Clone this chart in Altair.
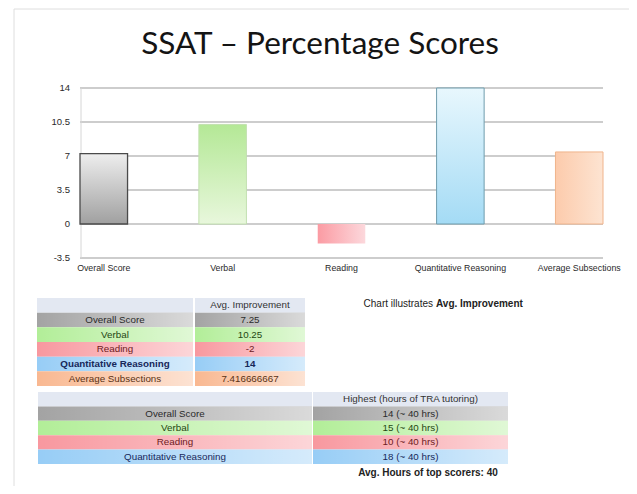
import altair as alt
import pandas as pd

# ---------------- data ----------------
title_text = "SSAT – Percentage Scores"
categories = ["Overall Score", "Verbal", "Reading", "Quantitative Reasoning", "Average Subsections"]
improvement = [7.25, 10.25, -2, 14, 7.416666667]
improvement_labels = ["7.25", "10.25", "-2", "14", "7.416666667"]
y_ticks = [-3.5, 0, 3.5, 7, 10.5, 14]
y_tick_labels = ["-3.5", "0", "3.5", "7", "10.5", "14"]
table1_header = "Avg. Improvement"
table2_header = "Highest (hours of TRA tutoring)"
table2_categories = categories[:4]
highest = ["14 (~ 40 hrs)", "15 (~ 40 hrs)", "10 (~ 40 hrs)", "18 (~ 40 hrs)"]
caption_plain = "Chart illustrates"
caption_bold = "Avg. Improvement"
footnote = "Avg. Hours of top scorers: 40"

# ---------------- styles ----------------
FONT = "Liberation Sans, Arial, sans-serif"
TITLE_FONT = "Lato, DejaVu Sans Condensed, sans-serif"
keys = ["header"] + categories
cell_fill = ["#e3e8f2", "#a3a3a3", "#b2ee98", "#f8989f", "#97cdf6", "#f9b891"]
text_col = ["#333333", "#2b2b2b", "#1f4712", "#6d1b22", "#17285a", "#5a3214"]

W, H = 621, 478

bars_df = pd.DataFrame({"category": categories, "value": improvement})
ticks_df = pd.DataFrame({"tick": y_ticks, "label": y_tick_labels})

xs = alt.Scale(type="band", domain=categories, range=[72, 595], paddingInner=0.6, paddingOuter=0)
ys = alt.Scale(domain=[-3.5, 14], range=[250, 80], nice=False, zero=False)

one = pd.DataFrame({"t": [title_text]})

layers = []

# card
layers.append(alt.Chart(one).mark_rect(fill="#e6e6e6").encode(
    x=alt.value(8), x2=alt.value(628), y=alt.value(3), y2=alt.value(480)))
layers.append(alt.Chart(one).mark_rect(fill="white", stroke="#dedede", strokeWidth=1).encode(
    x=alt.value(6), x2=alt.value(624), y=alt.value(1), y2=alt.value(479)))

# title
layers.append(alt.Chart(one).mark_text(font=TITLE_FONT, fontSize=31.5, color="#141414",
                                       align="center", baseline="middle").encode(
    x=alt.value(312), y=alt.value(37), text="t:N"))

# gridlines
layers.append(alt.Chart(ticks_df).mark_rule(color="#9c9c9c", strokeWidth=1.1).encode(
    y=alt.Y("tick:Q", scale=ys, axis=None), x=alt.value(72), x2=alt.value(595)))
layers.append(alt.Chart(one).mark_rule(color="#d6d6d6", strokeWidth=1).encode(
    x=alt.value(73), y=alt.value(80), y2=alt.value(250)))

# tick labels
layers.append(alt.Chart(ticks_df).mark_text(font=FONT, fontSize=9.5, color="#2a2a2a",
                                            align="right", baseline="middle").encode(
    y=alt.Y("tick:Q", scale=ys, axis=None), x=alt.value(62), text="label:N"))

# bars with individual gradients
def grad(c1, c2, vertical=True):
    return alt.Gradient(gradient="linear",
                        stops=[alt.GradientStop(color=c1, offset=0), alt.GradientStop(color=c2, offset=1)],
                        x1=0, y1=0, x2=0 if vertical else 1, y2=1 if vertical else 0)

bar_styles = {
    "Overall Score": dict(color=grad("#eeeeee", "#a0a0a0"), stroke="#4a4a4a", strokeWidth=1.3),
    "Verbal": dict(color=grad("#b4e896", "#e8f7dc"), stroke="#c2e0b0", strokeWidth=1),
    "Reading": dict(color=grad("#fb9ba3", "#fcd8dc", vertical=False), strokeWidth=0),
    "Quantitative Reasoning": dict(color=grad("#e8f7fd", "#a4dbf5"), stroke="#6e9cac", strokeWidth=1),
    "Average Subsections": dict(color=grad("#fccbac", "#fde4d2", vertical=False), stroke="#f0b48c", strokeWidth=1),
}
for cat in categories:
    layers.append(alt.Chart(bars_df).transform_filter(alt.datum.category == cat)
                  .mark_bar(**bar_styles[cat]).encode(
        x=alt.X("category:N", scale=xs, axis=None),
        y=alt.Y("value:Q", scale=ys, axis=None),
        y2=alt.datum(0)))

# category labels
layers.append(alt.Chart(bars_df).mark_text(font=FONT, fontSize=8.8, color="#2a2a2a",
                                           align="center", baseline="middle").encode(
    x=alt.X("category:N", scale=xs, axis=None, bandPosition=0.5), y=alt.value(260), text="category:N"))

# ---------------- tables ----------------
rows = []
rows.append(dict(table=1, row=0, key="header", c1="", c2=table1_header, bold=False))
for i, (c, v) in enumerate(zip(categories, improvement_labels)):
    rows.append(dict(table=1, row=i + 1, key=c, c1=c, c2=v, bold=(c == "Quantitative Reasoning")))
rows.append(dict(table=2, row=0, key="header", c1="", c2=table2_header, bold=False))
for i, (c, v) in enumerate(zip(table2_categories, highest)):
    rows.append(dict(table=2, row=i + 1, key=c, c1=c, c2=v, bold=False))
cells = pd.DataFrame(rows)
cells["row_end"] = cells["row"] + 1
cells["mid"] = cells["row"] + 0.5

fill_scale = alt.Scale(domain=keys, range=cell_fill)
text_scale = alt.Scale(domain=keys, range=text_col)
table_y = {1: alt.Scale(domain=[0, 6], range=[290, 378], nice=False, zero=False),
           2: alt.Scale(domain=[0, 5], range=[384, 456], nice=False, zero=False)}
col_x = {(1, 1): (29, 185), (1, 2): (187, 297), (2, 1): (30, 304), (2, 2): (305, 500)}
white_grad = alt.Gradient(gradient="linear",
                          stops=[alt.GradientStop(color="rgba(255,255,255,0)", offset=0),
                                 alt.GradientStop(color="rgba(255,255,255,0.6)", offset=1)],
                          x1=0, y1=0, x2=1, y2=0)

for (t, c), (x0, x1) in col_x.items():
    base = alt.Chart(cells).transform_filter(alt.datum.table == t)
    layers.append(base.mark_rect().encode(
        x=alt.value(x0), x2=alt.value(x1),
        y=alt.Y("row:Q", scale=table_y[t], axis=None), y2="row_end:Q",
        fill=alt.Fill("key:N", scale=fill_scale, legend=None)))
    layers.append(base.transform_filter(alt.datum.key != "header").mark_rect(color=white_grad).encode(
        x=alt.value(x0), x2=alt.value(x1),
        y=alt.Y("row:Q", scale=table_y[t], axis=None), y2="row_end:Q"))
    for b in (False, True):
        layers.append(base.transform_filter(alt.datum.bold == b).mark_text(
            font=FONT, fontSize=9.8, fontWeight="bold" if b else "normal",
            align="center", baseline="middle").encode(
            x=alt.value((x0 + x1) / 2),
            y=alt.Y("mid:Q", scale=table_y[t], axis=None),
            text=alt.Text("c1:N" if c == 1 else "c2:N"),
            color=alt.Color("key:N", scale=text_scale, legend=None)))

# caption & footnote
cap = pd.DataFrame({"a": [caption_plain], "b": [caption_bold], "f": [footnote]})
layers.append(alt.Chart(cap).mark_text(font=FONT, fontSize=10, color="#222222",
                                       align="right", baseline="middle").encode(
    x=alt.value(425), y=alt.value(296), text="a:N"))
layers.append(alt.Chart(cap).mark_text(font=FONT, fontSize=10, fontWeight="bold", color="#222222",
                                       align="left", baseline="middle").encode(
    x=alt.value(428), y=alt.value(296), text="b:N"))
layers.append(alt.Chart(cap).mark_text(font=FONT, fontSize=10, fontWeight="bold", color="#222222",
                                       align="center", baseline="middle").encode(
    x=alt.value(420), y=alt.value(465), text="f:N"))

chart = alt.layer(*layers).resolve_scale(
    x="independent", y="independent", fill="independent", color="independent"
).properties(
    width=W, height=H, autosize=alt.AutoSizeParams(type="none"), padding=0, background="white"
).configure_view(stroke=None)

chart.save("out.html", embed_options={"renderer": "svg", "actions": False})
